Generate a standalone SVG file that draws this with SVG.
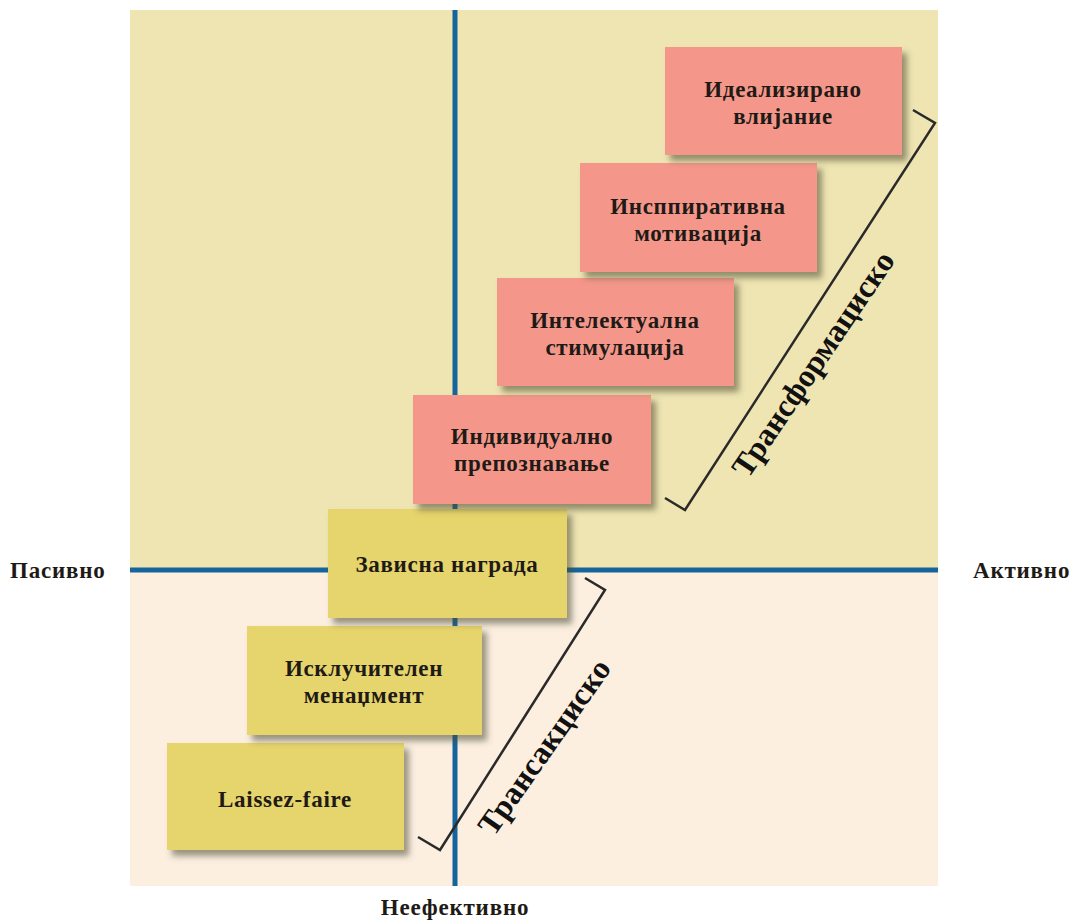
<svg xmlns="http://www.w3.org/2000/svg" width="1075" height="920" viewBox="0 0 1075 920">
  <defs>
    <filter id="shadow" x="-10%" y="-10%" width="130%" height="140%">
      <feDropShadow dx="5" dy="6" stdDeviation="3" flood-color="#4a4630" flood-opacity="0.55"/>
    </filter>
  </defs>
  <style>
    .lbl { font-family: "Liberation Serif", "Times New Roman", serif; font-weight: bold; font-size: 23px; letter-spacing: 0.7px; fill: #1e1a16; text-anchor: middle; }
    .axis-lbl { font-family: "Liberation Serif", "Times New Roman", serif; font-weight: bold; font-size: 23px; letter-spacing: 0.8px; fill: #1e1a16; }
    .big { font-family: "Liberation Serif", "Times New Roman", serif; font-weight: bold; font-size: 32px; fill: #111; text-anchor: middle; }
    .pink { fill: #f4978a; filter: url(#shadow); }
    .gold { fill: #e6d46c; filter: url(#shadow); }
    .axis { stroke: #15659c; stroke-width: 5; fill: none; }
    .bracket { stroke: #2a2a2a; stroke-width: 2.5; fill: none; stroke-linejoin: miter; }
  </style>

  <rect width="1075" height="920" fill="#ffffff"/>

  <!-- quadrant backgrounds -->
  <rect x="130" y="10" width="808" height="560" fill="#efe5b3"/>
  <rect x="130" y="570" width="808" height="316" fill="#fcefe0"/>

  <!-- axes and brackets -->
  <g id="connectors">
    <line class="axis" x1="455" y1="10" x2="455" y2="886"/>
    <line class="axis" x1="130" y1="570" x2="938" y2="570"/>
    <polyline class="bracket" points="913,110 935,123 685,510 665,498"/>
    <polyline class="bracket" points="585,578 605,590 440,850 418,837"/>
  </g>

  <g id="node-laissez">
    <rect class="gold" x="167" y="743" width="237" height="107"/>
    <text class="lbl" x="285" y="807">Laissez-faire</text>
  </g>
  <g id="node-iskluchitelen">
    <rect class="gold" x="247" y="626" width="235" height="109"/>
    <text class="lbl" x="364" y="676">Исклучителен</text>
    <text class="lbl" x="364" y="703">менаџмент</text>
  </g>
  <g id="node-zavisna">
    <rect class="gold" x="328" y="509" width="239" height="109"/>
    <text class="lbl" x="447" y="572">Зависна награда</text>
  </g>
  <g id="node-individualno">
    <rect class="pink" x="413" y="395" width="238" height="109"/>
    <text class="lbl" x="532" y="444">Индивидуално</text>
    <text class="lbl" x="532" y="471">препознавање</text>
  </g>
  <g id="node-intelektualna">
    <rect class="pink" x="497" y="278" width="237" height="108"/>
    <text class="lbl" x="615" y="328">Интелектуална</text>
    <text class="lbl" x="615" y="355">стимулација</text>
  </g>
  <g id="node-inspirativna">
    <rect class="pink" x="580" y="163" width="237" height="109"/>
    <text class="lbl" x="698" y="214">Инсппиративна</text>
    <text class="lbl" x="698" y="241">мотивација</text>
  </g>
  <g id="node-idealizirano">
    <rect class="pink" x="665" y="47" width="237" height="108"/>
    <text class="lbl" x="783" y="97">Идеализирано</text>
    <text class="lbl" x="783" y="124">влијание</text>
  </g>

  <!-- group labels along the brackets -->
  <g id="label-transformacisko">
    <text class="big" transform="translate(822,370) rotate(-56)">Трансформациско</text>
  </g>
  <g id="label-transakcisko">
    <text class="big" transform="translate(553,753) rotate(-55)">Трансакциско</text>
  </g>

  <!-- axis labels -->
  <g id="axis-labels">
    <text class="axis-lbl" x="10" y="578">Пасивно</text>
    <text class="axis-lbl" x="973" y="578">Активно</text>
    <text class="axis-lbl" x="455" y="915" text-anchor="middle">Неефективно</text>
  </g>
</svg>
